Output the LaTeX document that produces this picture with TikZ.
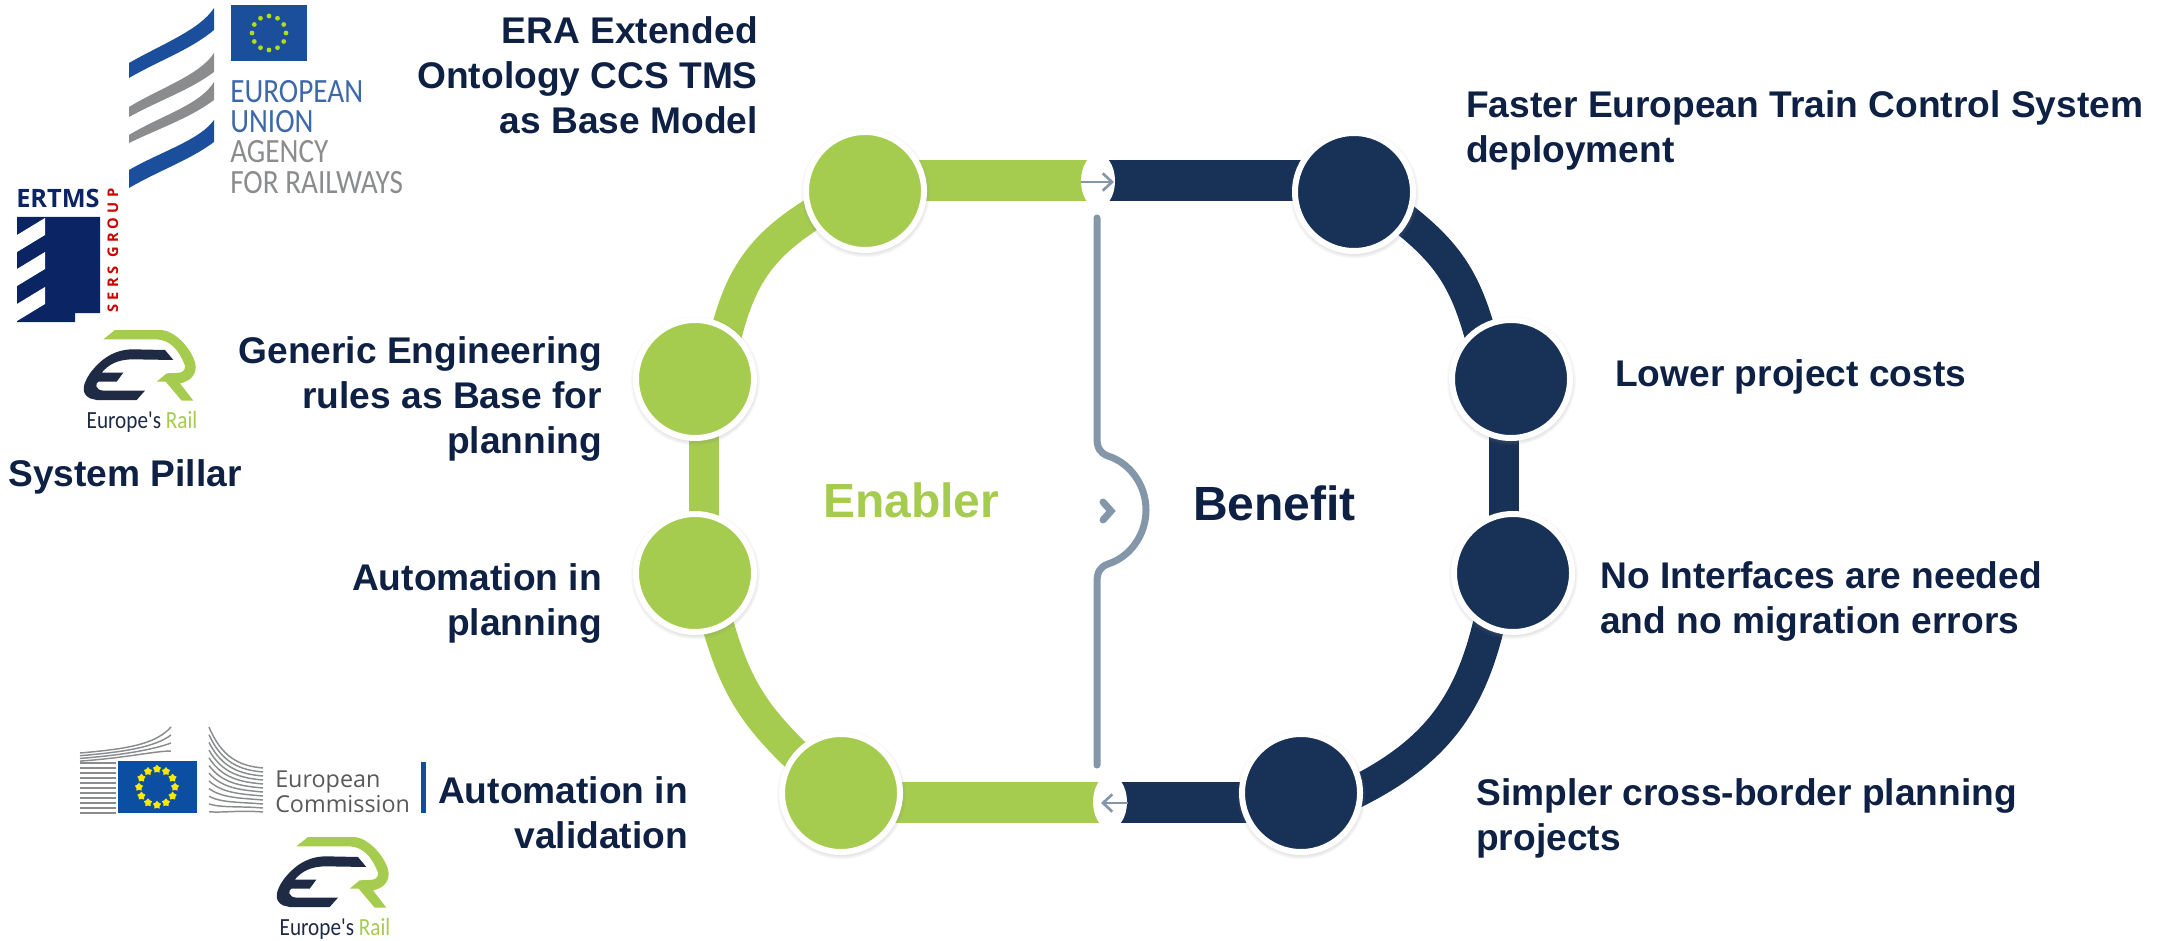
\documentclass[tikz,border=0pt]{standalone}
\usepackage{fontspec}
\setmainfont{Liberation Sans}
\newfontfamily\logofont[FakeStretch=0.86]{Carlito}
\newfontfamily\ecfont{Open Sans}
\usetikzlibrary{shapes.geometric,shadows,backgrounds,arrows.meta}

\definecolor{enablergreen}{HTML}{A5CB4F}
\definecolor{benefitnavy}{HTML}{183157}
\definecolor{labelnavy}{HTML}{0E2144}
\definecolor{bracegray}{HTML}{8497AA}
\definecolor{eraBlue}{HTML}{1B4F9C}
\definecolor{eraGray}{HTML}{8A8C8E}
\definecolor{ecBlue}{HTML}{0B4EA2}
\definecolor{ertmsNavy}{HTML}{0A2464}
\definecolor{erDark}{HTML}{1F2A44}

\tikzset{every picture/.style={line width=0.75pt},
	stopcircle/.style={circle,draw=white,line width=4.5pt,minimum size=88.5pt,inner sep=0pt,
		circular drop shadow={shadow xshift=0pt,shadow yshift=-1pt,shadow scale=1.1,opacity=.45}},
	enablerstop/.style={stopcircle,fill=enablergreen},
	benefitstop/.style={stopcircle,fill=benefitnavy},
	straightbar/.style={line width=30.75pt},
	curvebar/.style={line width=24pt,shorten <=-12pt,shorten >=-12pt},
	sidebar/.style={line width=22.5pt},
	lens/.style={ellipse,fill=white,minimum width=25.5pt,minimum height=40.5pt,inner sep=0pt},
	bracepath/.style={draw=bracegray,line width=5.25pt,line cap=round},
	chevronarrow/.style={draw=bracegray,line width=2pt,-{Straight Barb[length=7pt,width=13pt]}},
	labeltext/.style={inner sep=0pt,text=labelnavy,font=\bfseries\fontsize{27.85}{33.75}\selectfont},
	bigtext/.style={inner sep=0pt,font=\bfseries\fontsize{36}{42}\selectfont},
	eratext/.style={inner sep=0pt,anchor=north west,font=\logofont\fontsize{25.5}{25.5}\selectfont},
	flagstar/.style={star,star points=5,fill=yellow!90!orange,minimum size=6.5pt,inner sep=0pt},
	erlogo/.pic={
		\fill [enablergreen,xscale=1/3,yscale=-1/3] (-35,28) -- (0,0) -- (135,0) .. controls (185,0) and (240,70) .. (242,110) .. controls (242,140) and (220,155) .. (195,160) -- (235,212) -- (200,212) -- (152,155) -- (125,155) -- (155,130) -- (195,128) .. controls (210,125) and (215,110) .. (205,95) .. controls (190,60) and (165,30) .. (125,28) -- cycle;
		\fill [erDark,xscale=1/3,yscale=-1/3] (175,90) -- (150,60) -- (55,58) .. controls (-5,58) and (-45,90) .. (-75,130) .. controls (-95,160) and (-105,190) .. (-75,205) -- (-55,210) -- (65,210) -- (90,182) -- (-35,182) .. controls (-60,180) and (-60,160) .. (-50,155) -- (5,155) -- (25,128) -- (-40,128) .. controls (-20,105) and (5,88) .. (55,88) -- cycle;
		\node (rail) [inner sep=0pt,anchor=north,font=\logofont\fontsize{18.5}{18.5}\selectfont] at (27,-81) {\textcolor{erDark}{Europe's} \textcolor{enablergreen}{Rail}};
	}}

\begin{document}
\begin{tikzpicture}[x=0.75pt,y=0.75pt,yscale=-1,xscale=1]
		\useasboundingbox (0,0) rectangle (2161,941);
		
		%Shape: Circle
		\node (enablerone) [enablerstop] at (865,191) {};
		\node (enablertwo) [enablerstop] at (695,379) {};
		\node (enablerthree) [enablerstop] at (695,573) {};
		\node (enablerfour) [enablerstop] at (841,793) {};
		\node (benefitone) [benefitstop] at (1354,192) {};
		\node (benefittwo) [benefitstop] at (1511,379) {};
		\node (benefitthree) [benefitstop] at (1513,573) {};
		\node (benefitfour) [benefitstop] at (1301,793) {};
		
		%Shape: Ellipse
		\node (lenstop) [lens] at (1098,181) {};
		\node (lensbottom) [lens] at (1110,802) {};
		\coordinate (enablerside) at (704,476);
		\coordinate (benefitside) at (1504,476);
		
		%ring
		\begin{pgfonlayer}{background}
		\draw [straightbar,enablergreen] (enablerone.center |- lenstop.center) -- (lenstop.center);
		\draw [straightbar,benefitnavy] (lenstop.center) -- (benefitone.center |- lenstop.center);
		\draw [straightbar,enablergreen] (enablerfour.center |- lensbottom.center) -- (lensbottom.center);
		\draw [straightbar,benefitnavy] (lensbottom.center) -- (benefitfour.center |- lensbottom.center);
		\draw [curvebar,enablergreen] (enablerone.204) to [bend left=23] (enablertwo.58);
		\draw [sidebar,enablergreen] (enablertwo.center -| enablerside) -- (enablerthree.center -| enablerside);
		\draw [curvebar,enablergreen] (enablerthree.293) to [bend left=16] (enablerfour.140);
		\draw [curvebar,benefitnavy] (benefitone.331) to [bend right=19] (benefittwo.122);
		\draw [sidebar,benefitnavy] (benefittwo.center -| benefitside) -- (benefitthree.center -| benefitside);
		\draw [curvebar,benefitnavy] (benefitthree.246) to [bend right=26] (benefitfour.4);
		\end{pgfonlayer}
		
		%brace and arrows
		\coordinate (bracetop) at (1097,218);
		\coordinate (bracebottom) at (1097,765);
		\coordinate (tiptop) at (1114,182);
		\coordinate (tipbottom) at (1101,803);
		\draw [bracepath] (bracetop) -- (1097,438) .. controls (1097,448) and (1100,453) .. (1108,456) .. controls (1130,463) and (1146,485) .. (1146,510) .. controls (1146,535) and (1130,557) .. (1108,564) .. controls (1100,567) and (1097,572) .. (1097,582) -- (bracebottom);
		\draw [bracepath] (1103,502) -- (1111,511) -- (1103,520);
		\draw [chevronarrow] (lenstop.west |- tiptop) -- (tiptop);
		\draw [chevronarrow] (lensbottom.east |- tipbottom) -- (tipbottom);
		
		\node (enablerword) [bigtext,text=enablergreen,anchor=west] at (823,500) {Enabler};
		\node (benefitword) [bigtext,text=labelnavy,anchor=west] at (1193,503) {Benefit};
		
		\node (ontology) [labeltext,anchor=east,align=right] at (758,75) {ERA Extended\\Ontology CCS TMS\\as Base Model};
		\node (generic) [labeltext,anchor=east,align=right] at (602,399) {Generic Engineering\\rules as Base for\\planning};
		\node (planning) [labeltext,anchor=east,align=right] at (602,603) {Automation in\\planning};
		\node (validation) [labeltext,anchor=east,align=right] at (688,813) {Automation in\\validation};
		\node (pillar) [labeltext,anchor=west] at (8,477) {System Pillar};
		\node (faster) [labeltext,anchor=west,align=left] at (1466,130) {Faster European Train Control System\\deployment};
		\node (costs) [labeltext,anchor=west] at (1615,377) {Lower project costs};
		\node (interfaces) [labeltext,anchor=west,align=left] at (1600,601) {No Interfaces are needed\\and no migration errors};
		\node (simpler) [labeltext,anchor=west,align=left] at (1476,818) {Simpler cross-border planning\\projects};
		
		%Shape: agency logo
		\fill [eraBlue] (129,63) .. controls (160,45) and (200,30) .. (214,8) -- (214,30) .. controls (190,50) and (160,60) .. (129,78) -- cycle;
		\fill [eraGray] (129,107) .. controls (160,88) and (200,75) .. (214,53) -- (214,72) .. controls (190,90) and (160,100) .. (129,117) -- cycle;
		\fill [eraGray] (129,135) .. controls (160,116) and (200,105) .. (214,82) -- (214,100) .. controls (190,118) and (160,128) .. (129,143) -- cycle;
		\fill [eraBlue] (129,170) .. controls (160,152) and (200,140) .. (214,120) -- (214,142) .. controls (190,160) and (160,170) .. (129,188) -- cycle;
		\fill [eraBlue] (231,5) rectangle (307,61);
		\foreach \a in {0,30,...,330}
			\fill [yellow!70!green] (269,33) ++(\a:17) circle (2.4);
		\node (eraone) [eratext,text=eraBlue!85!white] at (230,80) {EUROPEAN};
		\node (eratwo) [eratext,text=eraBlue!85!white] at (230,110) {UNION};
		\node (erathree) [eratext,text=eraGray] at (230,140) {AGENCY};
		\node (erafour) [eratext,text=eraGray] at (230,171) {FOR RAILWAYS};
		
		%Shape: ertms logo
		\fill [ertmsNavy] (17,217) -- (100,217) -- (100,313) -- (75,313) -- (75,322) -- (17,322) -- cycle;
		\foreach \a in {235,269,304}
			\fill [white] (17,\a) -- (45,\a-17) -- (45,\a) -- (17,\a+17) -- cycle;
		\node (ertms) [inner sep=0pt,anchor=west,text=ertmsNavy,font=\ecfont\bfseries\fontsize{19}{19}\selectfont] at (16,198) {ERTMS};
		\node (users) [inner sep=0pt,anchor=west,rotate=90,text=red!80!black,font=\ecfont\bfseries\fontsize{11}{11}\selectfont\addfontfeatures{LetterSpace=29}] at (113,313) {SERS GROUP};
		
		%Shape: commission logo
		\foreach \a in {0,...,10}
			\draw [eraGray,line width=1.1pt] (80,763+\a*5) -- (116,763+\a*5);
		\foreach \a in {0,...,3}
			\draw [eraGray,line width=1.1pt] (80,753+\a*2.7) .. controls (125,749+\a*3) and (155,745+\a*2) .. (171,727+\a*8);
		\foreach \a in {0,...,11}
			\draw [eraGray,line width=1.1pt] (209,727+\a*7.7) .. controls (222,758+\a*5) and (240,766+\a*4) .. (263,768+\a*4);
		\fill [ecBlue] (118,761) rectangle (197,813);
		\foreach \a in {0,30,...,330}
			\node (ecstar\a) [flagstar] at ([shift={(\a:18)}]157,787) {};
		\node (commission) [inner sep=0pt,anchor=west,align=left,text=black!65,font=\ecfont\fontsize{17.5}{18.75}\selectfont] at (275,792) {European\\Commission};
		\fill [ecBlue] (421,762) rectangle (426,813);
		
		\pic (railone) at (115,330) {erlogo};
		\pic (railtwo) at (308,837) {erlogo};
	\end{tikzpicture}
\end{document}
